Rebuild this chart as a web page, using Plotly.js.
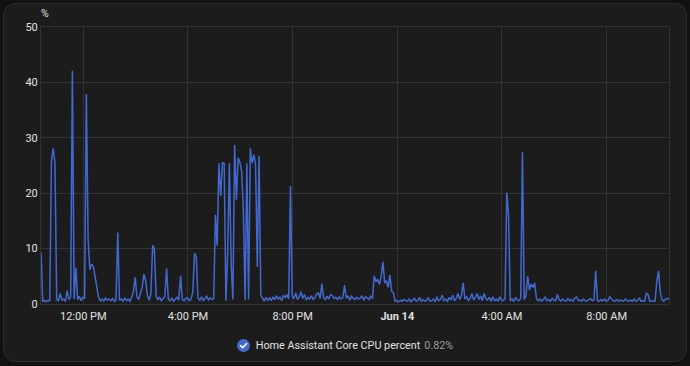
<!DOCTYPE html>
<html>
<head>
<meta charset="utf-8">
<script src="https://cdn.plot.ly/plotly-3.0.1.min.js"></script>
<style>
  html, body { margin: 0; padding: 0; background: #111111; width: 690px; height: 366px; overflow: hidden; }
  #card {
    position: absolute; left: 3px; top: 3px; width: 682px; height: 357px;
    background: #1c1c1c; border: 1px solid #2c2c2c; border-radius: 12px;
  }
  #chart { position: absolute; left: 0; top: 0; width: 690px; height: 366px; }
  #legend {
    position: absolute; left: 0; top: 335px; width: 690px; height: 20px;
    font-family: Roboto, sans-serif; font-size: 10.8px; color: #e1e1e1;
    display: flex; align-items: center; justify-content: center;
  }
  #legend .dot { width: 13px; height: 13px; margin-right: 6px; margin-left: 0; }
  #legend .state { color: #9e9e9e; margin-left: 4px; }
</style>
</head>
<body>
<div id="card"></div>
<div id="chart"></div>
<div id="legend"></div>
<script>
// CPU usage of the Home Assistant Core process, one reading every 4 minutes
const seriesName = 'Home Assistant Core CPU percent';
const unit = '%';
const startDay = '2024-06-13';
const startTime = '10:23';
const stepMinutes = 4;

const cpuPercent = [
  9.3, 0.5, 0.6, 0.4, 0.7, 0.5, 25.8, 28.1, 25.4, 0.8,
  0.6, 1.9, 0.7, 0.9, 0.5, 2.4, 0.8, 1.2, 42.1, 0.9,
  6.6, 0.8, 1.4, 0.6, 1.2, 1.0, 37.9, 11.8, 6.2, 7.2,
  6.8, 4.9, 2.8, 1.2, 0.6, 0.9, 0.5, 1.1, 0.7, 0.9,
  0.6, 1.0, 0.5, 0.8, 12.9, 0.7, 0.9, 0.5, 1.1, 0.6,
  0.9, 0.5, 1.2, 2.2, 4.8, 1.3, 0.8, 1.7, 3.0, 5.4,
  4.2, 1.5, 0.7, 1.8, 10.6, 9.9, 1.4, 0.8, 1.2, 0.6,
  0.9, 1.3, 6.4, 0.8, 0.6, 1.1, 0.5, 0.9, 1.2, 0.7,
  5.1, 0.8, 0.6, 1.0, 1.1, 0.6, 0.9, 2.1, 9.2, 8.5,
  1.0, 0.7, 1.3, 0.6, 1.0, 1.4, 0.7, 1.1, 0.8, 1.0,
  16.1, 10.5, 25.4, 19.5, 25.5, 25.4, 0.6, 9.2, 25.4, 7.4,
  0.8, 28.7, 18.8, 26.4, 25.6, 24.0, 17.0, 0.7, 25.4, 0.8,
  28.1, 25.4, 26.9, 25.2, 6.7, 26.7, 1.6, 0.9, 0.5, 1.2,
  0.7, 1.1, 0.6, 1.3, 0.8, 1.5, 0.9, 1.2, 0.6, 1.6,
  1.1, 1.7, 0.9, 21.3, 1.4, 1.0, 2.0, 0.8, 1.3, 2.2,
  1.0, 1.7, 0.7, 1.2, 0.9, 1.5, 0.8, 1.1, 1.8, 2.0,
  1.0, 3.7, 1.2, 0.8, 1.4, 0.9, 1.7, 1.5, 1.0, 1.2,
  0.8, 1.3, 0.9, 1.1, 3.4, 1.0, 1.5, 0.7, 1.4, 1.0,
  0.8, 1.2, 0.9, 1.1, 1.5, 0.7, 1.3, 1.1, 0.8, 1.4,
  1.0, 5.1, 4.0, 4.5, 3.5, 5.0, 7.6, 3.8, 4.2, 3.0,
  5.2, 2.3, 2.0, 0.5, 0.6, 0.4, 0.7, 0.5, 0.8, 0.6,
  0.5, 0.9, 0.4, 0.7, 1.0, 0.5, 0.6, 1.2, 0.5, 0.8,
  0.5, 0.7, 1.1, 0.5, 0.6, 0.9, 0.4, 1.3, 0.6, 0.8,
  1.6, 0.6, 0.9, 0.5, 1.2, 0.7, 1.6, 0.6, 1.0, 1.9,
  0.8, 1.5, 3.8, 0.9, 1.3, 0.6, 1.0, 1.9, 0.7, 1.2,
  1.9, 0.8, 1.5, 0.6, 1.9, 1.0, 0.7, 1.2, 0.5, 1.3,
  0.6, 0.9, 0.5, 1.3, 0.7, 0.6, 1.0, 20.1, 16.1, 0.6,
  0.9, 0.5, 1.2, 0.7, 0.6, 1.0, 27.4, 0.8, 1.5, 5.0,
  2.5, 3.6, 3.0, 3.8, 1.0, 0.6, 0.9, 0.5, 0.8, 1.3,
  0.6, 0.8, 0.5, 1.0, 0.7, 0.6, 1.7, 0.8, 0.5, 0.9,
  0.6, 0.5, 1.0, 0.6, 0.8, 0.5, 1.1, 1.3, 0.6, 0.7,
  0.5, 0.9, 0.6, 0.5, 0.8, 1.0, 0.6, 0.7, 6.0, 0.6,
  0.5, 0.8, 0.6, 0.9, 0.5, 0.6, 1.3, 1.0, 0.6, 0.5,
  0.8, 0.5, 0.7, 0.6, 0.5, 0.9, 0.6, 0.5, 0.7, 0.5,
  0.9, 0.5, 0.6, 1.1, 0.5, 0.6, 0.5, 1.9, 1.7, 0.5,
  0.6, 0.5, 0.5, 4.0, 6.0, 2.2, 0.8, 0.5, 0.9, 1.0,
  0.82
];

const tickTimes = ['2024-06-13 12:00', '2024-06-13 16:00', '2024-06-13 20:00',
                   '2024-06-14 00:00', '2024-06-14 04:00', '2024-06-14 08:00'];
const tickLabels = ['12:00 PM', '4:00 PM', '8:00 PM', '<b>Jun 14</b>', '4:00 AM', '8:00 AM'];
const yTicks = [0, 10, 20, 30, 40, 50];

const lineColor = '#4269d0';
const textColor = '#e1e1e1';
const gridColor = '#323232';

function pad(n) { return String(n).padStart(2, '0'); }

// timestamps for each reading
const [sh, sm] = startTime.split(':').map(Number);
const baseDate = new Date(startDay + 'T00:00:00');
function stamp(totalMinutes) {
  const d = new Date(baseDate.getTime() + totalMinutes * 60000);
  return d.getFullYear() + '-' + pad(d.getMonth() + 1) + '-' + pad(d.getDate()) +
         ' ' + pad(d.getHours()) + ':' + pad(d.getMinutes()) + ':00';
}
const times = cpuPercent.map((_, i) => stamp(sh * 60 + sm + i * stepMinutes));

const trace = {
  x: times,
  y: cpuPercent,
  type: 'scatter',
  mode: 'lines',
  name: seriesName,
  line: { color: lineColor, width: 1.5 },
  hoverinfo: 'skip'
};

const layout = {
  width: 690, height: 366,
  margin: { l: 41, r: 21, t: 27, b: 62 },
  paper_bgcolor: 'rgba(0,0,0,0)',
  plot_bgcolor: 'rgba(0,0,0,0)',
  showlegend: false,
  font: { family: 'Roboto, sans-serif', size: 11, color: textColor },
  xaxis: {
    type: 'date',
    range: [times[0], times[times.length - 1]],
    tickmode: 'array', tickvals: tickTimes, ticktext: tickLabels,
    showgrid: true, gridcolor: gridColor, gridwidth: 1,
    showline: true, linecolor: gridColor, linewidth: 1, mirror: true,
    zeroline: false, ticks: '', ticklabelstandoff: 2,
    tickfont: { size: 11, color: textColor }
  },
  yaxis: {
    range: [0, 50],
    tickmode: 'array', tickvals: yTicks,
    showgrid: true, gridcolor: gridColor, gridwidth: 1,
    showline: true, linecolor: gridColor, linewidth: 1, mirror: true,
    zeroline: false, ticks: '',
    tickfont: { size: 11, color: textColor }
  },
  annotations: [{
    text: unit, xref: 'paper', yref: 'paper', x: 0, y: 1,
    xanchor: 'left', yanchor: 'bottom', yshift: 5, xshift: -2,
    showarrow: false, font: { size: 10.5, color: textColor }
  }]
};

Plotly.newPlot('chart', [trace], layout, { staticPlot: true, displayModeBar: false });

// legend row with the current state
const current = cpuPercent[cpuPercent.length - 1];
document.getElementById('legend').innerHTML =
  '<svg class="dot" viewBox="0 0 14 14"><circle cx="7" cy="7" r="7" fill="' + lineColor + '"/>' +
  '<path d="M3.8 7.2 L6.1 9.4 L10.3 4.9" fill="none" stroke="#ffffff" stroke-width="1.7" stroke-linecap="round" stroke-linejoin="round"/></svg>' +
  '<span>' + seriesName + '</span><span class="state">' + current + unit + '</span>';
</script>
</body>
</html>
